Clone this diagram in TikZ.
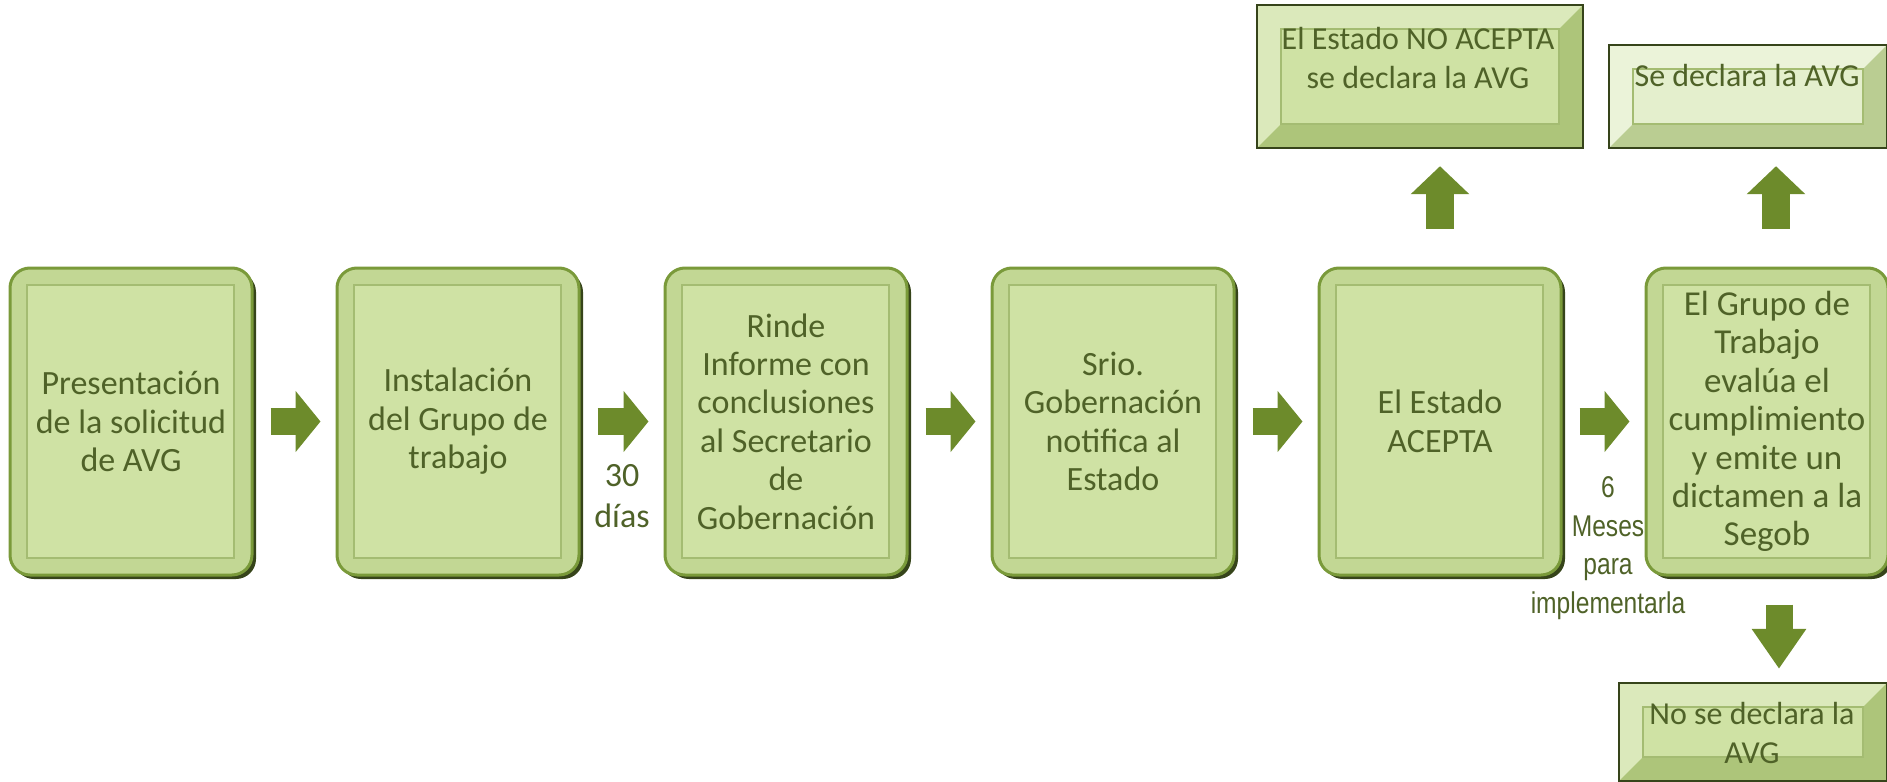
\documentclass[tikz,border=0pt]{standalone}
\usepackage{fontspec}
\setmainfont{Carlito}
\newfontfamily\narrowfont[FakeStretch=0.82]{Liberation Sans}
\usetikzlibrary{arrows.meta,shadows}

\definecolor{textgreen}{HTML}{4F6228}
\definecolor{panelfill}{HTML}{CFE2A4}
\definecolor{palepanel}{HTML}{E4EFCD}
\definecolor{edgeolive}{HTML}{7A9A3A}
\definecolor{edgedark}{HTML}{36441A}
\definecolor{panelline}{HTML}{A4BC72}
\definecolor{arrowgreen}{HTML}{6D8B2B}

\tikzset{
  stepbox/.style={rounded corners=10pt, draw=edgeolive, line width=1.5pt,
    fill=panelfill!85!edgeolive, minimum width=121pt, minimum height=153.5pt,
    inner sep=0pt, align=center, text=textgreen, font=\fontsize{17}{19.2}\selectfont,
    drop shadow={shadow xshift=2pt, shadow yshift=-2pt, fill=edgedark, opacity=1},
    path picture={\draw[panelline, fill=panelfill, line width=0.8pt, sharp corners]
      ([shift={(8.5pt,-8.5pt)}]path picture bounding box.north west) rectangle
      ([shift={(-9pt,8.5pt)}]path picture bounding box.south east);}},
  bevelbox/.style={draw=edgedark, line width=1.2pt, fill=#1!75!white, inner sep=0pt,
    path picture={
      \fill[#1!60!edgeolive] (path picture bounding box.south west)
        -- (path picture bounding box.south east)
        -- (path picture bounding box.north east)
        -- ([shift={(-12pt,-12pt)}]path picture bounding box.north east)
        -- ([shift={(-12pt,12pt)}]path picture bounding box.south east)
        -- ([shift={(12pt,12pt)}]path picture bounding box.south west) -- cycle;
      \draw[panelline, fill=#1, line width=0.8pt]
        ([shift={(12pt,-12pt)}]path picture bounding box.north west) rectangle
        ([shift={(-12pt,12pt)}]path picture bounding box.south east);}},
  bevelbox/.default=panelfill,
  lbl/.style={text=textgreen, align=center, inner sep=0pt, font=\fontsize{16}{19.2}\selectfont},
  narrowlbl/.style={lbl, font=\narrowfont\fontsize{15}{19.2}\selectfont},
  flowarrow/.style={draw=arrowgreen, line width=13.5pt, -{Triangle[length=12.5pt,width=30pt]},
    shorten <=8.5pt, shorten >=7.5pt},
  uparrow/.style={draw=arrowgreen, line width=14pt, -{Triangle[length=14pt,width=28.5pt]}},
  downarrow/.style={draw=arrowgreen, line width=13.5pt, -{Triangle[length=20pt,width=26pt]}},
}

\begin{document}
\begin{tikzpicture}[x=0.5pt, y=-0.5pt]
  \useasboundingbox (0,0) rectangle (1887,782);

  % main row
  \node[stepbox] (b1) at (131,421.5) {Presentación\\de la solicitud\\de AVG};
  \node[stepbox] (b2) at (458,421.5) {Instalación\\del Grupo de\\trabajo};
  \node[stepbox] (b3) at (786,421.5) {Rinde\\Informe con\\conclusiones\\al Secretario\\de\\Gobernación};
  \node[stepbox] (b4) at (1113,421.5) {Srio.\\Gobernación\\notifica al\\Estado};
  \node[stepbox] (b5) at (1440,421.5) {El Estado\\ACEPTA};
  \node[stepbox, font=\fontsize{17.5}{19.2}\selectfont] (b6) at (1767,421.5) {El Grupo de\\Trabajo\\evalúa el\\cumplimiento\\y emite un\\dictamen a la\\Segob};

  % outcomes
  \node[bevelbox, minimum width=163pt, minimum height=71.5pt] (noacepta) at (1420,76.5) {};
  \node[lbl, anchor=north] (noaceptatxt) at (1418,27) {El Estado NO ACEPTA\\se declara la AVG};
  \node[bevelbox=palepanel, minimum width=139pt, minimum height=51.5pt] (sideclara) at (1748,96.5) {};
  \node[lbl, anchor=north] (sideclaratxt) at (1747,64) {Se declara la AVG};
  \node[bevelbox, minimum width=134pt, minimum height=49pt] (nodeclara) at (1753,732) {};
  \node[lbl, anchor=north] (nodeclaratxt) at (1752,702) {No se declara la\\AVG};

  % plazos
  \node[lbl, anchor=north, font=\fontsize{17}{20.5}\selectfont] (dias) at (622,464.5) {30\\días};
  \node[narrowlbl, anchor=north] (meses) at (1608,476.5) {6\\Meses\\para\\implementarla};

  \draw[flowarrow] (b1) -- (b2);
  \draw[flowarrow] (b2) -- (b3);
  \draw[flowarrow] (b3) -- (b4);
  \draw[flowarrow] (b4) -- (b5);
  \draw[flowarrow] (b5) -- (b6);

  \draw[uparrow, shorten <=19pt, shorten >=8.5pt] (b5.north) -- (b5.north |- noacepta.south);
  \draw[uparrow, shorten <=19pt, shorten >=8.5pt] ([xshift=4.5pt]b6.north) -- ([xshift=4.5pt]b6.north |- sideclara.south);
  \draw[downarrow, shorten <=14pt, shorten >=6.5pt] ([xshift=6pt]b6.south) -- ([xshift=6pt]b6.south |- nodeclara.north);
\end{tikzpicture}
\end{document}
